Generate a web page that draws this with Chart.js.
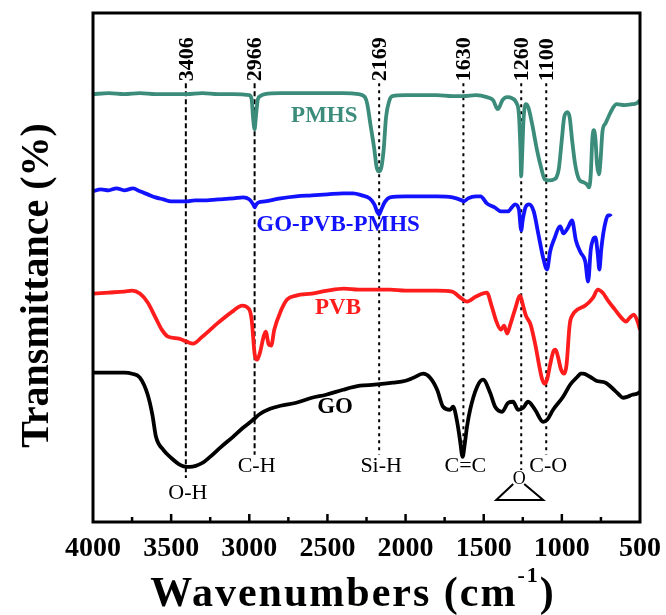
<!DOCTYPE html>
<html>
<head>
<meta charset="utf-8">
<script src="https://cdn.jsdelivr.net/npm/chart.js@4.4.1/dist/chart.umd.min.js"></script>
<style>
  html, body { margin: 0; padding: 0; background: #fff; }
  #wrap { width: 666px; height: 615px; }
</style>
</head>
<body>
<div id="wrap"><canvas id="ftir" width="666" height="615"></canvas></div>
<script>
// FTIR spectra, values (offset transmittance, arbitrary units)
const pmhsWn = [4000,3900,3800,3700,3600,3500,3400,3300,3200,3100,3000,2985,2975,2966,2958,2945,2930,2900,2800,2700,2600,2500,2400,2300,2260,2245,2225,2200,2185,2170,2155,2140,2125,2105,2085,2000,1900,1800,1700,1630,1550,1480,1440,1420,1410,1400,1380,1350,1320,1290,1275,1265,1260,1255,1245,1230,1215,1190,1160,1130,1110,1080,1050,1035,1020,1000,985,965,950,935,915,890,860,840,826,815,805,795,785,775,762,752,740,720,700,670,650,600,550,520,500];
const pmhsT = [85.4,85.6,85.4,85.6,85.4,85.4,85.4,85.6,85.4,85.4,85.2,84.4,80.4,78.4,80.8,84.4,85.0,85.4,85.6,85.6,85.6,85.6,85.6,85.4,84.8,83.4,79.4,74.4,70.8,70.0,70.8,74.4,80.8,84.0,85.0,85.2,85.2,85.2,85.0,85.0,85.2,84.8,84.2,82.8,82.4,82.8,84.2,84.8,84.6,83.6,81.4,74.4,69.0,72.4,80.4,83.4,82.8,79.4,74.4,70.4,68.4,68.2,68.4,68.8,70.4,76.4,80.8,81.8,80.8,76.4,71.4,68.4,67.8,67.4,66.8,69.4,76.4,78.2,76.4,71.4,69.4,72.4,78.0,79.6,81.0,82.8,83.4,83.2,83.4,83.6,84.2];

const hybridWn = [4000,3950,3900,3850,3800,3744,3700,3650,3600,3550,3500,3450,3400,3350,3300,3200,3100,3040,3000,2975,2966,2955,2940,2900,2800,2700,2600,2500,2400,2336,2280,2230,2200,2180,2169,2155,2130,2100,2000,1900,1800,1700,1640,1626,1600,1550,1520,1480,1430,1390,1345,1320,1300,1275,1260,1250,1230,1210,1180,1150,1120,1095,1075,1050,1010,990,960,935,910,880,850,832,815,800,785,770,760,748,735,720,705,690,685];
const hybridT = [66.0,66.4,66.2,66.6,66.2,66.6,66.0,65.4,64.8,64.4,64.0,64.0,64.0,64.2,64.2,64.4,64.6,64.8,64.4,63.4,62.8,63.4,63.8,64.0,64.6,65.0,65.2,65.4,65.6,65.6,65.2,64.6,63.4,61.8,61.4,62.4,64.0,64.8,65.0,65.0,65.0,64.8,64.2,64.0,64.6,65.0,65.0,63.6,62.8,62.0,62.0,62.8,63.4,62.4,58.2,60.4,63.0,63.4,62.0,57.4,52.8,50.4,54.0,56.4,59.0,57.6,58.8,60.2,56.2,53.8,52.0,48.0,54.4,56.4,56.8,53.4,50.4,54.4,57.6,60.0,61.2,61.2,61.0];

const pvbWn = [4000,3900,3800,3750,3700,3650,3600,3560,3520,3450,3400,3360,3300,3206,3100,3046,3000,2985,2965,2950,2930,2910,2895,2875,2860,2840,2800,2758,2700,2600,2500,2394,2300,2200,2100,2000,1900,1800,1702,1650,1606,1550,1480,1450,1421,1390,1370,1350,1330,1300,1267,1250,1230,1200,1170,1140,1125,1110,1095,1075,1055,1040,1025,1005,985,970,950,930,900,850,800,770,740,700,660,620,590,565,540,520,500];
const pvbT = [45.6,45.8,46.0,46.2,45.6,43.8,40.8,38.4,37.0,36.6,36.0,35.6,37.0,39.6,42.2,43.2,42.4,40.4,33.4,32.4,34.0,36.8,38.0,35.4,35.2,38.4,42.0,44.4,45.2,45.6,46.2,46.6,46.4,46.4,46.4,46.2,46.2,46.2,46.0,44.8,44.0,45.0,45.8,43.2,40.2,38.4,39.2,37.6,39.4,42.4,45.2,43.4,41.2,39.4,35.4,30.4,28.4,27.6,28.4,31.4,34.0,34.4,33.0,30.4,29.6,31.4,39.4,41.4,42.4,43.2,44.8,46.4,45.8,44.0,42.4,40.8,40.0,40.8,41.4,40.4,38.4];

const goWn = [4000,3900,3800,3750,3700,3650,3620,3597,3550,3500,3443,3400,3380,3300,3251,3180,3104,3040,2976,2930,2867,2800,2700,2600,2509,2400,2291,2200,2080,2000,1950,1888,1843,1798,1760,1715,1696,1670,1652,1635,1622,1607,1587,1542,1504,1459,1427,1382,1344,1312,1280,1248,1216,1171,1120,1094,1056,992,947,900,880,864,820,780,720,680,640,608,580,550,520,500];
const goT = [29.8,29.8,29.8,29.6,28.8,25.4,21.4,17.0,14.4,12.8,11.4,11.0,11.0,11.8,13.0,15.0,17.0,18.8,20.4,21.6,22.6,23.2,23.8,24.8,25.4,26.4,27.2,27.4,27.8,28.2,28.8,29.6,28.8,26.4,23.0,22.4,23.0,20.0,16.4,13.0,15.4,19.0,22.4,27.0,28.4,25.8,23.0,22.0,23.8,24.0,22.4,22.8,24.0,22.4,20.0,20.4,22.4,25.0,27.4,29.0,29.6,29.6,29.0,28.2,27.8,26.8,25.6,24.8,25.0,25.4,25.6,26.0];

const seriesNames = ['PMHS', 'GO-PVB-PMHS', 'PVB', 'GO'];
const peakWn = [3406, 2966, 2169, 1630, 1260, 1100];
const peakGroups = ['O-H', 'C-H', 'Si-H', 'C=C', 'epoxide', 'C-O'];
const xTicks = [4000, 3500, 3000, 2500, 2000, 1500, 1000, 500];

const SERIF = "'Liberation Serif', 'Times New Roman', serif";
const colors = ['#3b8c7b', '#1212ff', '#ff1c1c', '#000000'];

function pts(wn, t) {
    return wn.map((w, i) => ({ x: w, y: t[i] }));
}

// Annotations: peak lines, band names, curve names, axis frame, titles
const decor = {
    id: 'decor',
    beforeDatasetsDraw(chart) {
        const ctx = chart.ctx;
        const xs = chart.scales.x, ys = chart.scales.y;
        // lower end of each dashed line (value units) and dash pattern
        const lineBottom = [8.8, 13.4, 13.4, 13.4, 10.4, 13.4];
        const dashes = [[5, 3], [5, 3], [3, 4], [3, 4], [3, 4], [3, 4]];
        ctx.save();
        ctx.strokeStyle = '#000';
        ctx.lineWidth = 2;
        peakWn.forEach((w, i) => {
            const x = xs.getPixelForValue(w);
            ctx.setLineDash(dashes[i]);
            ctx.beginPath();
            ctx.moveTo(x, ys.getPixelForValue(87.6));
            ctx.lineTo(x, ys.getPixelForValue(lineBottom[i]));
            ctx.stroke();
        });
        ctx.setLineDash([]);

        // rotated wavenumber labels at the top
        ctx.fillStyle = '#000';
        ctx.font = 'bold 22px ' + SERIF;
        ctx.textAlign = 'left';
        ctx.textBaseline = 'middle';
        peakWn.forEach(w => {
            const x = xs.getPixelForValue(w);
            ctx.save();
            ctx.translate(x + 1, ys.getPixelForValue(88));
            ctx.rotate(-Math.PI / 2);
            ctx.fillText(String(w), 0, 0);
            ctx.restore();
        });

        // band assignments below the curves
        ctx.font = '22px ' + SERIF;
        ctx.textAlign = 'center';
        peakWn.forEach((w, i) => {
            const x = xs.getPixelForValue(w) + 2;
            if (peakGroups[i] === 'epoxide') {
                // oxirane ring sketch
                const cx = x - 4;
                const y0 = ys.getPixelForValue(8.6);
                ctx.font = '18px ' + SERIF;
                ctx.fillText('O', cx, y0);
                ctx.lineWidth = 2;
                const yb = ys.getPixelForValue(4.4);
                ctx.beginPath();
                ctx.moveTo(cx - 6, y0 + 5);
                ctx.lineTo(cx - 23, yb);
                ctx.lineTo(cx + 24, yb);
                ctx.lineTo(cx + 5, y0 + 5);
                ctx.stroke();
                ctx.font = '22px ' + SERIF;
            } else {
                const v = i === 0 ? 5.8 : 11.2;
                ctx.fillText(peakGroups[i], x, ys.getPixelForValue(v));
            }
        });

        // curve names
        const namePos = [[2520, 81], [2432, 59.2], [2432, 42.8], [2451, 23]];
        ctx.font = 'bold 23px ' + SERIF;
        seriesNames.forEach((n, i) => {
            ctx.fillStyle = colors[i];
            ctx.fillText(n, xs.getPixelForValue(namePos[i][0]), ys.getPixelForValue(namePos[i][1]));
        });
        ctx.restore();
    },
    afterDraw(chart) {
        const ctx = chart.ctx;
        const a = chart.chartArea;
        const xs = chart.scales.x;
        ctx.save();
        ctx.strokeStyle = '#000';
        ctx.lineWidth = 3;
        ctx.strokeRect(a.left, a.top, a.right - a.left, a.bottom - a.top);

        // inward ticks on the bottom axis
        ctx.lineWidth = 2.5;
        for (let w = 3750; w > 500; w -= 250) {
            const x = xs.getPixelForValue(w);
            const len = w % 500 === 0 ? 8 : 5;
            ctx.beginPath();
            ctx.moveTo(x, a.bottom);
            ctx.lineTo(x, a.bottom - len);
            ctx.stroke();
        }

        // x axis title with superscript
        ctx.fillStyle = '#000';
        ctx.textBaseline = 'alphabetic';
        ctx.textAlign = 'left';
        ctx.letterSpacing = '2px';
        ctx.font = 'bold 42px ' + SERIF;
        const main = 'Wavenumbers (cm';
        const sup = '-1';
        const wMain = ctx.measureText(main).width;
        ctx.font = 'bold 22px ' + SERIF;
        const wSup = ctx.measureText(sup).width;
        ctx.font = 'bold 42px ' + SERIF;
        const wEnd = ctx.measureText(')').width;
        const x0 = 353 - (wMain + wSup + wEnd) / 2;
        const yb = 606;
        ctx.fillText(main, x0, yb);
        ctx.font = 'bold 22px ' + SERIF;
        ctx.fillText(sup, x0 + wMain, yb - 24);
        ctx.font = 'bold 42px ' + SERIF;
        ctx.fillText(')', x0 + wMain + wSup, yb);

        // y axis title
        ctx.letterSpacing = '0px';
        ctx.save();
        ctx.translate(38, (a.top + a.bottom) / 2 + 18);
        ctx.rotate(-Math.PI / 2);
        ctx.textAlign = 'center';
        ctx.textBaseline = 'middle';
        ctx.font = 'bold 40px ' + SERIF;
        ctx.fillText('Transmittance (%)', 0, 0);
        ctx.restore();
        ctx.restore();
    }
};

new Chart(document.getElementById('ftir'), {
    type: 'line',
    data: {
        datasets: [
            { label: seriesNames[0], data: pts(pmhsWn, pmhsT), borderColor: colors[0] },
            { label: seriesNames[1], data: pts(hybridWn, hybridT), borderColor: colors[1] },
            { label: seriesNames[2], data: pts(pvbWn, pvbT), borderColor: colors[2] },
            { label: seriesNames[3], data: pts(goWn, goT), borderColor: colors[3] }
        ]
    },
    options: {
        responsive: false,
        animation: false,
        devicePixelRatio: 1,
        layout: { padding: { top: 13, right: 26, left: 0, bottom: 0 } },
        elements: {
            line: { borderWidth: 3.8, cubicInterpolationMode: 'monotone', fill: false },
            point: { radius: 0 }
        },
        plugins: {
            legend: { display: false },
            tooltip: { enabled: false }
        },
        scales: {
            x: {
                type: 'linear',
                min: 500,
                max: 4000,
                reverse: true,
                grid: { display: false, drawTicks: false },
                border: { display: false },
                afterBuildTicks: s => { s.ticks = xTicks.map(v => ({ value: v })); },
                ticks: {
                    color: '#000',
                    padding: 10,
                    maxRotation: 0,
                    autoSkip: false,
                    font: { family: SERIF, size: 28, weight: 'bold' },
                    callback: v => String(v)
                },
                afterFit: s => {
                    s.height = 93;
                    s.paddingLeft = 0;
                    s.paddingRight = 0;
                }
            },
            y: {
                min: 0,
                max: 101.6,
                grid: { display: false, drawTicks: false },
                border: { display: false },
                ticks: { display: false },
                afterFit: s => { s.width = 93; }
            }
        }
    },
    plugins: [decor]
});
</script>
</body>
</html>
